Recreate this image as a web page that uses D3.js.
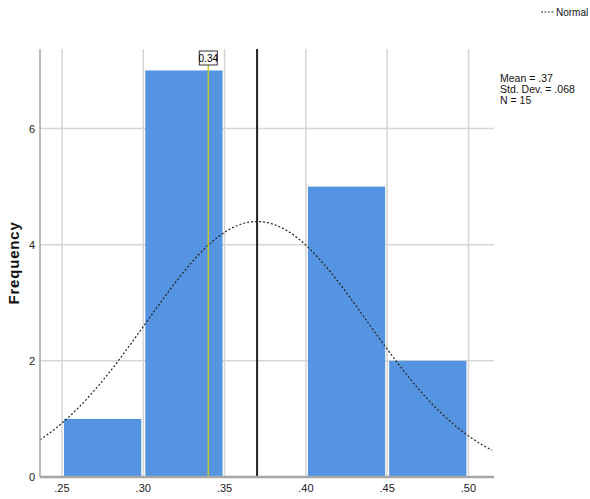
<!DOCTYPE html>
<html>
<head>
<meta charset="utf-8">
<script src="https://cdn.jsdelivr.net/npm/d3@7"></script>
<style>
  body { margin: 0; background: #fff; }
  text { font-family: "Liberation Sans Narrow", "Arial Narrow", "Liberation Sans", Arial, sans-serif; }
</style>
</head>
<body>
<div id="chart"></div>
<script>
// histogram bins (lower edge, upper edge) and counts
var binStart = [0.25, 0.30, 0.35, 0.40, 0.45];
var binEnd = [0.30, 0.35, 0.40, 0.45, 0.50];
var counts = [1, 7, 0, 5, 2];
var xTicks = [0.25, 0.30, 0.35, 0.40, 0.45, 0.50];
var xTickLabels = ['.25', '.30', '.35', '.40', '.45', '.50'];
var yTicks = [0, 2, 4, 6];
var statLines = ['Mean = .37', 'Std. Dev. = .068', 'N = 15'];
var mean = 0.37, sd = 0.068, n = 15, binWidth = 0.05;
var refValue = 0.34;

var width = 590, height = 499;
var margin = {top: 49, right: 96, bottom: 22, left: 40};

var svg = d3.select('#chart')
    .append('svg')
    .attr('width', width)
    .attr('height', height);

var x = d3.scaleLinear()
    .domain([0.2365, 0.5157])
    .range([margin.left, width - margin.right]);

var y = d3.scaleLinear()
    .domain([0, 7.37])
    .range([height - margin.bottom, margin.top]);

// grid lines
svg.append('g')
    .selectAll('line')
    .data(xTicks)
    .enter()
    .append('line')
    .attr('x1', function (d) { return x(d); })
    .attr('x2', function (d) { return x(d); })
    .attr('y1', y.range()[1])
    .attr('y2', y.range()[0])
    .attr('stroke', '#d6d6d6')
    .attr('stroke-width', 1.5);

svg.append('g')
    .selectAll('line')
    .data(yTicks.slice(1))
    .enter()
    .append('line')
    .attr('x1', x.range()[0])
    .attr('x2', x.range()[1])
    .attr('y1', function (d) { return y(d); })
    .attr('y2', function (d) { return y(d); })
    .attr('stroke', '#d6d6d6')
    .attr('stroke-width', 1.5);

// bars
svg.append('g')
    .selectAll('rect')
    .data(counts)
    .enter()
    .append('rect')
    .attr('x', function (d, i) { return x(binStart[i]) + 2; })
    .attr('width', function (d, i) { return x(binEnd[i]) - x(binStart[i]) - 4; })
    .attr('y', function (d) { return y(d); })
    .attr('height', function (d) { return y(0) - y(d); })
    .attr('fill', '#5594e0');

// normal curve
var curveX = d3.range(x.domain()[0], x.domain()[1] + 0.0005, 0.002);
var line = d3.line()
    .x(function (d) { return x(d); })
    .y(function (d) {
        var z = (d - mean) / sd;
        return y(n * binWidth * Math.exp(-0.5 * z * z) / (sd * Math.sqrt(2 * Math.PI)));
    });
svg.append('path')
    .datum(curveX)
    .attr('d', line)
    .attr('fill', 'none')
    .attr('stroke', '#222')
    .attr('stroke-width', 1.2)
    .attr('stroke-dasharray', '2,2');

// reference line at 0.34
svg.append('line')
    .attr('x1', x(refValue)).attr('x2', x(refValue))
    .attr('y1', y.range()[1] + 16).attr('y2', y(0))
    .attr('stroke', '#c9c62c')
    .attr('stroke-width', 1.5);
svg.append('rect')
    .attr('x', x(refValue) - 9).attr('y', margin.top + 2)
    .attr('width', 18).attr('height', 14)
    .attr('fill', '#fff')
    .attr('stroke', '#333')
    .attr('stroke-width', 1);
svg.append('text')
    .attr('x', x(refValue)).attr('y', margin.top + 13)
    .attr('text-anchor', 'middle')
    .attr('font-size', 10)
    .text(refValue.toFixed(2));

// mean line
svg.append('line')
    .attr('x1', x(mean)).attr('x2', x(mean))
    .attr('y1', y.range()[1]).attr('y2', y(0))
    .attr('stroke', '#222')
    .attr('stroke-width', 2);

// axes
svg.append('line')
    .attr('x1', x.range()[0]).attr('x2', x.range()[0])
    .attr('y1', y.range()[1]).attr('y2', y(0))
    .attr('stroke', '#a6a6a6')
    .attr('stroke-width', 1.5);
svg.append('line')
    .attr('x1', x.range()[0]).attr('x2', x.range()[1])
    .attr('y1', y(0)).attr('y2', y(0))
    .attr('stroke', '#a6a6a6')
    .attr('stroke-width', 2.5);

svg.append('g')
    .selectAll('text')
    .data(yTicks)
    .enter()
    .append('text')
    .attr('x', x.range()[0] - 5)
    .attr('y', function (d) { return y(d) + 4; })
    .attr('text-anchor', 'end')
    .attr('font-size', 11)
    .attr('fill', '#222')
    .text(function (d) { return d; });

svg.append('g')
    .selectAll('text')
    .data(xTicks)
    .enter()
    .append('text')
    .attr('x', function (d) { return x(d); })
    .attr('y', y(0) + 15)
    .attr('text-anchor', 'middle')
    .attr('font-size', 11)
    .attr('fill', '#222')
    .text(function (d, i) { return xTickLabels[i]; });

svg.append('text')
    .attr('transform', 'translate(19,' + ((y.range()[0] + y.range()[1]) / 2) + ') rotate(-90)')
    .attr('text-anchor', 'middle')
    .attr('font-family', '"Liberation Sans", Arial, sans-serif')
    .attr('font-weight', 'bold')
    .attr('font-size', 15)
    .attr('letter-spacing', 0.8)
    .attr('fill', '#111')
    .text('Frequency');

// stats box
svg.append('g')
    .selectAll('text')
    .data(statLines)
    .enter()
    .append('text')
    .attr('x', 500)
    .attr('y', function (d, i) { return 82 + i * 11; })
    .attr('font-size', 10.5)
    .attr('fill', '#111')
    .text(function (d) { return d; });

// legend, kept just inside the right edge
svg.append('line')
    .attr('x1', 541).attr('x2', 554)
    .attr('y1', 12).attr('y2', 12)
    .attr('stroke', '#333')
    .attr('stroke-width', 1)
    .attr('stroke-dasharray', '2,1.5');
svg.append('text')
    .attr('x', 556).attr('y', 16)
    .attr('font-size', 10)
    .attr('fill', '#111')
    .text('Normal');
</script>
</body>
</html>
